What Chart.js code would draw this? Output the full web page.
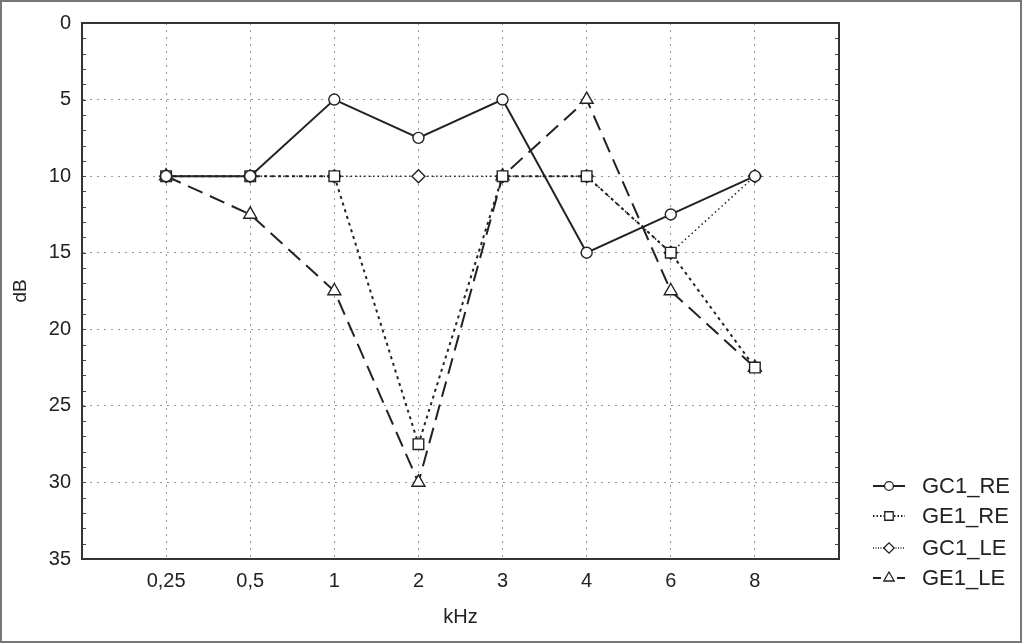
<!DOCTYPE html>
<html>
<head>
<meta charset="utf-8">
<script src="https://cdn.jsdelivr.net/npm/chart.js@4"></script>
<style>
  html, body { margin: 0; padding: 0; background: #fff; }
  #wrap { width: 1023px; height: 643px; }
</style>
</head>
<body>
<div id="wrap"><canvas id="grafico" width="1023" height="643"></canvas></div>
<script>
const categorias = ['0,25', '0,5', '1', '2', '3', '4', '6', '8'];
const gc1RE = [10, 10, 5, 7.5, 5, 15, 12.5, 10];
const ge1RE = [10, 10, 10, 27.5, 10, 10, 15, 22.5];
const gc1LE = [10, 10, 10, 10, 10, 10, 15, 10];
const ge1LE = [10, 12.5, 17.5, 30, 10, 5, 17.5, 22.5];
const ticksY = [0, 5, 10, 15, 20, 25, 30, 35];

// empty slot on each side of the categories
const etiquetas = [''].concat(categorias, ['']);
const rellenar = arr => [null].concat(arr, [null]);

const tinta = '#222';
const fuente = 'Liberation Sans, Arial, sans-serif';

function serie(label, data, dash, width, pointStyle, radius) {
    return {
        label: label,
        data: rellenar(data),
        borderColor: tinta,
        borderWidth: width,
        borderDash: dash,
        backgroundColor: '#fff',
        pointStyle: pointStyle,
        pointRadius: radius,
        pointBorderColor: tinta,
        pointBorderWidth: 1.4,
        pointBackgroundColor: '#fff',
        tension: 0,
        spanGaps: false
    };
}

const marco = {
    id: 'marco',
    beforeDraw(chart) {
        const c = chart.ctx;
        c.save();
        c.fillStyle = '#fff';
        c.fillRect(0, 0, chart.width, chart.height);
        c.strokeStyle = '#777';
        c.lineWidth = 2;
        c.strokeRect(1, 1, chart.width - 3, chart.height - 2);
        c.restore();
    },
    afterDraw(chart) {
        const c = chart.ctx;
        const a = chart.chartArea;
        const y = chart.scales.y;
        c.save();
        // minor ticks inside the plot on both sides
        c.strokeStyle = '#444';
        c.lineWidth = 1;
        for (let v = 0; v <= 35; v++) {
            const py = Math.round(y.getPixelForValue(v)) + 0.5;
            c.beginPath();
            c.moveTo(a.left, py); c.lineTo(a.left + 4, py);
            c.moveTo(a.right, py); c.lineTo(a.right - 4, py);
            c.stroke();
        }
        c.strokeStyle = '#333';
        c.lineWidth = 2;
        c.strokeRect(a.left, a.top, a.right - a.left, a.bottom - a.top);

        // legend with line + marker
        const x0 = 873, x1 = 905, xt = 922;
        const ys = [486, 516, 548, 578];
        c.font = '22px ' + fuente;
        c.textBaseline = 'middle';
        chart.data.datasets.forEach((ds, i) => {
            const ly = ys[i];
            c.strokeStyle = tinta;
            c.lineWidth = ds.borderWidth;
            c.setLineDash(ds.borderDash.length ? ds.borderDash.map(d => Math.max(1, d * 0.5)) : []);
            c.beginPath();
            c.moveTo(x0, ly); c.lineTo(x1, ly);
            c.stroke();
            c.setLineDash([]);
            c.lineWidth = 1.3;
            c.fillStyle = '#fff';
            Chart.helpers.drawPoint(c, {
                pointStyle: ds.pointStyle,
                radius: ds.pointRadius * 0.8,
                borderWidth: 1.3,
                rotation: 0
            }, (x0 + x1) / 2, ly);
            c.fillStyle = tinta;
            c.fillText(ds.label, xt, ly + 1);
        });
        c.restore();
    }
};

new Chart(document.getElementById('grafico').getContext('2d'), {
    type: 'line',
    data: {
        labels: etiquetas,
        datasets: [
            serie('GC1_RE', gc1RE, [], 2, 'circle', 5.5),
            serie('GE1_RE', ge1RE, [3, 4], 2, 'rect', 7.5),
            serie('GC1_LE', gc1LE, [1.5, 3], 1.5, 'rectRot', 6.5),
            serie('GE1_LE', ge1LE, [16, 8], 2, 'triangle', 7.5)
        ]
    },
    plugins: [marco],
    options: {
        responsive: false,
        animation: false,
        layout: { padding: { left: 0, top: 17, right: 184, bottom: 0 } },
        plugins: {
            legend: { display: false },
            tooltip: { enabled: false }
        },
        scales: {
            x: {
                type: 'category',
                offset: false,
                afterFit(scale) { scale.height = 84; },
                grid: {
                    color: '#999',
                    lineWidth: 1,
                    drawTicks: false
                },
                border: { display: true, color: '#333', width: 2, dash: [2, 5] },
                ticks: {
                    color: tinta,
                    font: { family: fuente, size: 20 },
                    padding: 10,
                    autoSkip: false,
                    maxRotation: 0
                },
                title: {
                    display: true,
                    text: 'kHz',
                    color: tinta,
                    font: { family: fuente, size: 20 },
                    padding: { top: 0, bottom: 14 }
                }
            },
            y: {
                reverse: true,
                min: 0,
                max: 35,
                afterFit(scale) { scale.width = 82; },
                afterBuildTicks(scale) { scale.ticks = ticksY.map(v => ({ value: v })); },
                grid: {
                    color: '#999',
                    lineWidth: 1,
                    drawTicks: false
                },
                border: { display: true, color: '#333', width: 2, dash: [2, 5] },
                ticks: {
                    color: tinta,
                    font: { family: fuente, size: 20 },
                    padding: 11
                },
                title: {
                    display: true,
                    text: 'dB',
                    color: tinta,
                    font: { family: fuente, size: 19 },
                    padding: { top: 9, bottom: 0 }
                }
            }
        }
    }
});
</script>
</body>
</html>
